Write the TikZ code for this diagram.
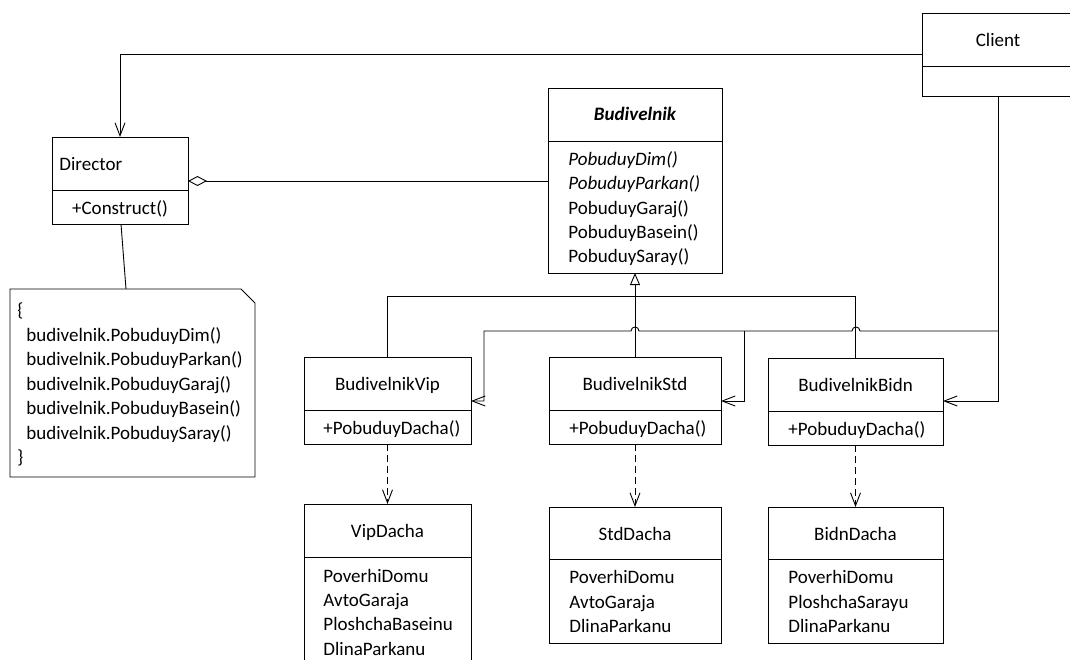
\documentclass[tikz,border=0pt]{standalone}
\usepackage{fontspec}
\setmainfont{Carlito}
\usetikzlibrary{arrows.meta}
\begin{document}
\begin{tikzpicture}[x=1pt,y=-1pt,line width=0.9pt,
  box/.style={draw,inner sep=0pt,outer sep=0pt,anchor=north west},
  txt/.style={inner sep=0pt,font=\fontsize{19}{24}\selectfont},
  lt/.style={txt,anchor=base west},
  ct/.style={txt,anchor=base},
  assoc/.style={-{Straight Barb[length=13pt,width=10pt]}},
  dep/.style={dash pattern=on 7pt off 4pt,-{Straight Barb[length=13pt,width=10pt]}},
  gen/.style={-{Triangle[open,length=12pt,width=10pt]}},
  aggr/.style={{Diamond[open,length=19pt,width=10pt]}-}]
\useasboundingbox (0,0) rectangle (1070,659);

% class boxes
\node[box,minimum width=152,minimum height=83] (client) at (922,13) {};
\node[box,minimum width=136,minimum height=87] (director) at (52,137) {};
\node[box,minimum width=174,minimum height=185] (bud) at (548,88) {};
\node[box,minimum width=167,minimum height=87] (vip) at (304,357) {};
\node[box,minimum width=172,minimum height=87] (std) at (549,357) {};
\node[box,minimum width=175,minimum height=87] (bidn) at (768,358) {};
\node[box,minimum width=167,minimum height=166] (vipd) at (304,504) {};
\node[box,minimum width=172,minimum height=136] (stdd) at (549,507) {};
\node[box,minimum width=175,minimum height=136] (bidnd) at (768,507) {};

% compartment dividers
\draw (client.west |- 0,66) -- (client.east |- 0,66);
\draw (director.west |- 0,190) -- (director.east |- 0,190);
\draw (bud.west |- 0,141) -- (bud.east |- 0,141);
\draw (vip.west |- 0,410) -- (vip.east |- 0,410);
\draw (std.west |- 0,410) -- (std.east |- 0,410);
\draw (bidn.west |- 0,411) -- (bidn.east |- 0,411);
\draw (vipd.west |- 0,557) -- (vipd.east |- 0,557);
\draw (stdd.west |- 0,559) -- (stdd.east |- 0,559);
\draw (bidnd.west |- 0,559) -- (bidnd.east |- 0,559);

% note with folded corner
\node[inner sep=0pt,outer sep=0pt,anchor=north west,minimum width=245,minimum height=188] (note) at (10,289) {};
\draw (note.north west) -- ([xshift=-14pt]note.north east) -- ([yshift=-14pt]note.north east)
  -- (note.south east) -- (note.south west) -- cycle;

% texts
\node[ct] (clientName) at (998,46.5) {Client};
\node[lt] (directorName) at (59,170) {Director};
\node[ct] (directorOp) at (120,214) {+Construct()};
\node[ct] (budName) at (635,120.5) {\bfseries\itshape Budivelnik};
\node[lt] (budm1) at (568,165.5) {\itshape PobuduyDim()};
\node[lt] (budm2) at (568,189.5) {\itshape PobuduyParkan()};
\node[lt] (budm3) at (568,214) {PobuduyGaraj()};
\node[lt] (budm4) at (568,238.5) {PobuduyBasein()};
\node[lt] (budm5) at (568,262.5) {PobuduySaray()};

\node[lt] (noteOpen) at (17,316.5) {\{};
\node[lt] (note1) at (26,341) {budivelnik.PobuduyDim()};
\node[lt] (note2) at (26,365.5) {budivelnik.PobuduyParkan()};
\node[lt] (note3) at (26,390) {budivelnik.PobuduyGaraj()};
\node[lt] (note4) at (26,414.5) {budivelnik.PobuduyBasein()};
\node[lt] (note5) at (26,439) {budivelnik.PobuduySaray()};
\node[lt] (noteClose) at (17,463.5) {\}};

\node[ct] (vipName) at (387.5,390) {BudivelnikVip};
\node[lt] (vipOp) at (323,434.7) {+PobuduyDacha()};
\node[ct] (stdName) at (635,390) {BudivelnikStd};
\node[lt] (stdOp) at (569,434.5) {+PobuduyDacha()};
\node[ct] (bidnName) at (855.5,391) {BudivelnikBidn};
\node[lt] (bidnOp) at (788,435) {+PobuduyDacha()};

\node[ct] (vipdName) at (387.5,537.7) {VipDacha};
\node[lt] (vipd1) at (323,582) {PoverhiDomu};
\node[lt] (vipd2) at (323,606.3) {AvtoGaraja};
\node[lt] (vipd3) at (323,630.7) {PloshchaBaseinu};
\node[lt] (vipd4) at (323,655) {DlinaParkanu};

\node[ct] (stddName) at (635,540) {StdDacha};
\node[lt] (stdd1) at (569,583.7) {PoverhiDomu};
\node[lt] (stdd2) at (569,608) {AvtoGaraja};
\node[lt] (stdd3) at (569,632.5) {DlinaParkanu};

\node[ct] (bidndName) at (855.5,540) {BidnDacha};
\node[lt] (bidnd1) at (788,583.7) {PoverhiDomu};
\node[lt] (bidnd2) at (788,608) {PloshchaSarayu};
\node[lt] (bidnd3) at (788,632.5) {DlinaParkanu};

% Client -> Director
\draw[assoc] (client.west |- 0,54) -| (director.north);
% Director aggregates Budivelnik
\draw[aggr] (director.east |- 0,181) -- (bud.west |- 0,181);
% note attachment
\draw ([xshift=1pt]director.south) -- (note.north -| 126,0);

% generalization
\draw (vip.north) -- (vip.north |- 0,296) -| (bidn.north);
\draw[gen] (std.north) -- (bud.south);

% Client -> concrete builders
\draw[assoc] (client.south) |- (bidn.east |- 0,401);
\draw[assoc] (client.south |- 0,331) -- (860,331)
  .. controls (860,325.7) and (852,325.7) .. (852,331) -- (639,331)
  .. controls (639,325.7) and (631,325.7) .. (631,331) -- (484,331)
  |- (vip.east |- 0,401);
\draw[assoc] (744,331) |- (std.east |- 0,401);

% builders create products
\draw[dep] (vip.south) -- (vipd.north);
\draw[dep] (std.south) -- (stdd.north);
\draw[dep] (bidn.south) -- (bidnd.north);
\end{tikzpicture}
\end{document}
